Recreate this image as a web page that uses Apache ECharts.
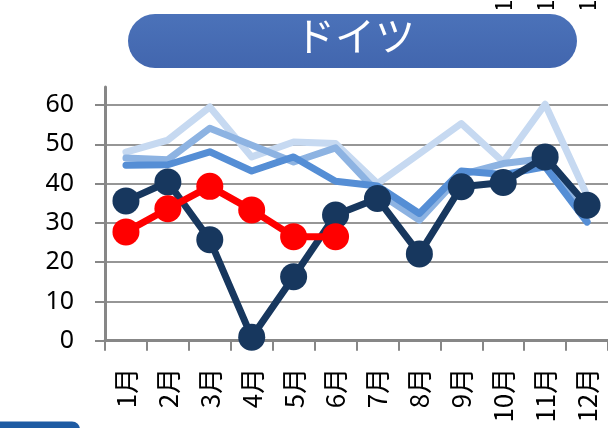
<!DOCTYPE html>
<html>
<head>
<meta charset="utf-8">
<script src="https://cdn.jsdelivr.net/npm/echarts@6/dist/echarts.min.js"></script>
<style>
  html, body { margin: 0; padding: 0; background: #ffffff; }
  #chart { width: 608px; height: 428px; }
</style>
</head>
<body>
<div id="chart"></div>
<script>
// Monthly figures for Germany (ドイツ)
const months = ['1月', '2月', '3月', '4月', '5月', '6月', '7月', '8月', '9月', '10月', '11月', '12月'];
const yTicks = [0, 10, 20, 30, 40, 50, 60];

const seriesPale   = [48.0, 51.1, 59.5, 46.8, 50.6, 50.2, 40.0, 47.6, 55.3, 45.5, 60.2, 37.0];
const seriesLight  = [46.5, 46.1, 54.1, 49.8, 45.5, 49.1, 37.8, 30.7, 42.3, 45.1, 46.4, 30.4];
const seriesMid    = [44.7, 44.8, 48.1, 43.2, 46.8, 40.6, 39.4, 32.4, 43.2, 42.3, 44.3, 30.2];
const seriesNavy   = [35.6, 40.4, 25.7, 0.9, 16.3, 32.0, 36.2, 22.1, 39.2, 40.3, 46.8, 34.5];
const seriesRed    = [27.7, 33.6, 39.3, 33.3, 26.5, 26.5];

const axisGray = '#878787';
const gridGray = '#969696';

function plainLine(name, data, color) {
  return {
    name, type: 'line', data,
    symbol: 'none', smooth: false,
    lineStyle: { color, width: 7, join: 'round', cap: 'round' },
    itemStyle: { color },
    silent: true, animation: false
  };
}
function markedLine(name, data, color) {
  return {
    name, type: 'line', data,
    symbol: 'circle', symbolSize: 27, showSymbol: true,
    lineStyle: { color, width: 7, join: 'round' },
    itemStyle: { color, borderWidth: 0 },
    silent: true, animation: false
  };
}

// a month label of the panel above, mostly outside the canvas
function cutLabel(x) {
  return {
    type: 'group', x: x, y: 6, rotation: Math.PI / 2, z: 10,
    children: [{
      type: 'text', x: 0, y: 0,
      style: { text: '1', fill: '#000', font: '24px "Noto Sans CJK JP"', align: 'center', verticalAlign: 'middle' }
    }]
  };
}

const chart = echarts.init(document.getElementById('chart'), null, { renderer: 'canvas' });
chart.setOption({
  backgroundColor: '#ffffff',
  animation: false,
  grid: { left: 105, top: 87, width: 507, bottom: 87.3, containLabel: false },
  xAxis: {
    type: 'category',
    data: months,
    boundaryGap: true,
    axisLine: { show: true, lineStyle: { color: axisGray, width: 3 } },
    axisTick: { show: true, interval: 0, length: 10, lineStyle: { color: axisGray, width: 2 } },
    axisLabel: {
      interval: 0, rotate: 90, margin: 27,
      color: '#000000', fontSize: 26,
      fontFamily: '"Noto Sans CJK JP", "Noto Sans", sans-serif'
    },
    splitLine: { show: false }
  },
  yAxis: {
    type: 'value',
    min: 0, max: 64.6, interval: 10,
    axisLine: { show: true, lineStyle: { color: axisGray, width: 3 } },
    axisTick: { show: true, length: 10, customValues: yTicks, lineStyle: { color: axisGray, width: 2 } },
    axisLabel: {
      customValues: yTicks, margin: 31,
      color: '#000000', fontSize: 25,
      fontFamily: '"Noto Sans", "Open Sans", sans-serif'
    },
    splitLine: { show: true, lineStyle: { color: gridGray, width: 2 } }
  },
  series: [
    plainLine('pale', seriesPale, '#c6d9f1'),
    plainLine('light', seriesLight, '#8db3e2'),
    plainLine('mid', seriesMid, '#558ed5'),
    markedLine('navy', seriesNavy, '#17375e'),
    markedLine('red', seriesRed, '#ff0000')
  ],
  graphic: [
    cutLabel(503),
    cutLabel(545),
    cutLabel(587),
    { type: 'rect', shape: { x: 470, y: 9, width: 138, height: 5 }, z: 11,
      style: { fill: '#ffffff' } },
    // title banner
    { type: 'rect', z: 12,
      shape: { x: 128, y: 14, width: 449, height: 54, r: 27 },
      style: {
        fill: new echarts.graphic.LinearGradient(0, 0, 0, 1, [
          { offset: 0, color: '#4b72b9' },
          { offset: 1, color: '#4266ae' }
        ])
      } },
    { type: 'text', x: 355, y: 36, z: 13,
      style: { text: 'ドイツ', fill: '#ffffff', font: '40px "Noto Sans CJK JP"', align: 'center', verticalAlign: 'middle' } },
    // edge of the banner of the panel below
    { type: 'rect', z: 12,
      shape: { x: -20, y: 421.5, width: 100, height: 20, r: [0, 8, 0, 0] },
      style: { fill: '#1e5ba3' } }
  ]
});
</script>
</body>
</html>
